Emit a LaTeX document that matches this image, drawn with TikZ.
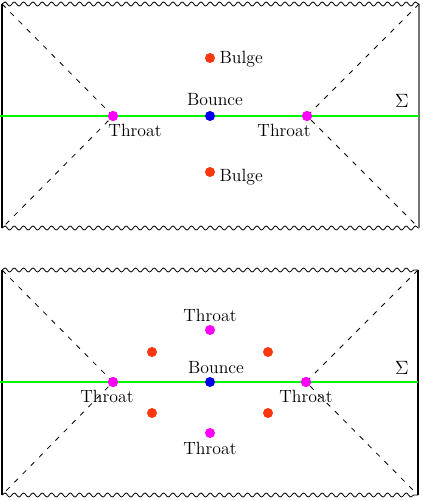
\documentclass[tikz,border=0pt]{standalone}
\usetikzlibrary{decorations.pathmorphing}
\definecolor{dotred}{RGB}{250,55,15}
\definecolor{dotmag}{RGB}{255,0,255}
\definecolor{dotblue}{RGB}{0,0,235}
\definecolor{siggreen}{RGB}{0,245,0}
\begin{document}
\begin{tikzpicture}[x=0.75pt,y=-0.75pt,
  wavy/.style={decorate,decoration={snake,amplitude=1.5pt,segment length=7pt},line width=0.6pt},
  edge/.style={line width=0.8pt},
  redge/.style={line width=1.4pt,draw=black!55},
  horizon/.style={dash pattern=on 3.8pt off 5pt,line width=0.6pt},
  sigma/.style={draw=siggreen,line width=1.8pt},
  dot/.style={circle,inner sep=0pt,minimum size=7.5pt},
  red dot/.style={dot,fill=dotred},
  mag dot/.style={dot,fill=dotmag},
  blue dot/.style={dot,fill=dotblue},
  lbl/.style={font=\fontsize{13.3}{16}\selectfont,inner sep=1pt},
  siglbl/.style={font=\fontsize{15}{18}\selectfont,inner sep=1pt}]
\useasboundingbox (0,0) rectangle (423,501);
% ---------- top panel ----------
\coordinate (TL) at (2,4);
\coordinate (TR) at (419,4);
\coordinate (BL) at (2,228);
\coordinate (BR) at (419,228);
\coordinate (SL) at (0,116);
\coordinate (SR) at (419,116);
\draw[wavy] (TL) -- (TR);
\draw[wavy] (BL) -- (BR);
\draw[edge] (TL) -- (BL);
\draw[redge] (TR) -- (BR);
\draw[sigma] (SL) -- (SR);
\node[mag dot] (th1) at (113,116) {};
\node[mag dot] (th2) at (307,116) {};
\draw[horizon] (TL) -- (th1.center) -- (BL);
\draw[horizon] (TR) -- (th2.center) -- (BR);
\node[mag dot] at (th1) {};
\node[mag dot] at (th2) {};
\node[blue dot] (b1) at (210,116) {};
\node[red dot] (bu1) at (210,58) {};
\node[red dot] (bu2) at (210,172) {};
\node[lbl,anchor=west] (lbu1) at (218,59) {Bulge};
\node[lbl,anchor=west] (lbu2) at (218,177) {Bulge};
\node[lbl] (lb1) at (215,100) {Bounce};
\node[lbl] (lth1) at (135,130) {Throat};
\node[lbl] (lth2) at (284,130) {Throat};
\node[siglbl] (sig1) at (402,101) {$\Sigma$};
% ---------- bottom panel ----------
\coordinate (TL2) at (2,270);
\coordinate (TR2) at (418,270);
\coordinate (BL2) at (2,495);
\coordinate (BR2) at (418,495);
\coordinate (SL2) at (0,382);
\coordinate (SR2) at (418,382);
\draw[wavy] (TL2) -- (TR2);
\draw[wavy] (BL2) -- (BR2);
\draw[edge] (TL2) -- (BL2);
\draw[edge] (TR2) -- (BR2);
\draw[sigma] (SL2) -- (SR2);
\node[mag dot] (t1) at (113,382) {};
\node[mag dot] (t2) at (306,382) {};
\draw[horizon] (TL2) -- (t1.center) -- (BL2);
\draw[horizon] (TR2) -- (t2.center) -- (BR2);
\node[mag dot] at (t1) {};
\node[mag dot] at (t2) {};
\node[blue dot] (b2) at (210,382) {};
\node[mag dot] (t3) at (210,330) {};
\node[mag dot] (t4) at (210,433) {};
\node[red dot] (r1) at (152,352) {};
\node[red dot] (r2) at (268,352) {};
\node[red dot] (r3) at (152,413) {};
\node[red dot] (r4) at (268,413) {};
\node[lbl] (lt3) at (210,315) {Throat};
\node[lbl] (lt4) at (210,448) {Throat};
\node[lbl] (lb2) at (216,368) {Bounce};
\node[lbl] (lt1) at (107,396) {Throat};
\node[lbl] (lt2) at (306,396) {Throat};
\node[siglbl] (sig2) at (402,368) {$\Sigma$};
\end{tikzpicture}
\end{document}
